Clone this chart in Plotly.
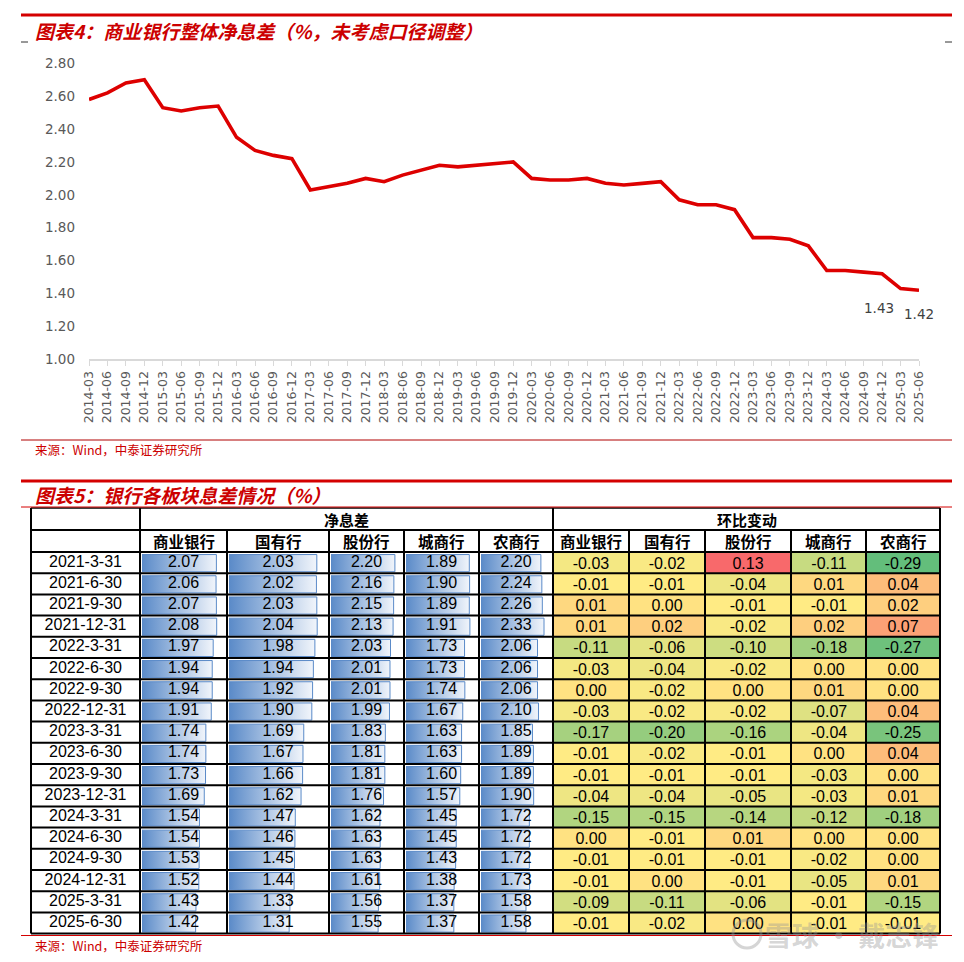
import plotly.graph_objects as go
import numpy as np

W, H = 964, 962


def px(x):
    return x / W


def py(y):
    return 1 - y / H


# ---------------- data: chart 4 ----------------
quarters = ["2014-03", "2014-06", "2014-09", "2014-12",
            "2015-03", "2015-06", "2015-09", "2015-12",
            "2016-03", "2016-06", "2016-09", "2016-12",
            "2017-03", "2017-06", "2017-09", "2017-12",
            "2018-03", "2018-06", "2018-09", "2018-12",
            "2019-03", "2019-06", "2019-09", "2019-12",
            "2020-03", "2020-06", "2020-09", "2020-12",
            "2021-03", "2021-06", "2021-09", "2021-12",
            "2022-03", "2022-06", "2022-09", "2022-12",
            "2023-03", "2023-06", "2023-09", "2023-12",
            "2024-03", "2024-06", "2024-09", "2024-12",
            "2025-03", "2025-06"]
nim_total = [2.58, 2.62, 2.68, 2.70,
             2.53, 2.51, 2.53, 2.54,
             2.35, 2.27, 2.24, 2.22,
             2.03, 2.05, 2.07, 2.10,
             2.08, 2.12, 2.15, 2.18,
             2.17, 2.18, 2.19, 2.20,
             2.10, 2.09, 2.09, 2.10,
             2.07, 2.06, 2.07, 2.08,
             1.97, 1.94, 1.94, 1.91,
             1.74, 1.74, 1.73, 1.69,
             1.54, 1.54, 1.53, 1.52,
             1.43, 1.42]
y_ticks = [1.00, 1.20, 1.40, 1.60, 1.80, 2.00, 2.20, 2.40, 2.60, 2.80]

# ---------------- data: chart 5 ----------------
dates = ["2021-3-31", "2021-6-30", "2021-9-30", "2021-12-31",
         "2022-3-31", "2022-6-30", "2022-9-30", "2022-12-31",
         "2023-3-31", "2023-6-30", "2023-9-30", "2023-12-31",
         "2024-3-31", "2024-6-30", "2024-9-30", "2024-12-31",
         "2025-3-31", "2025-6-30"]
bank_types = ["商业银行", "国有行", "股份行", "城商行", "农商行"]
group_titles = ["净息差", "环比变动"]

nim_bank = [2.07, 2.06, 2.07, 2.08, 1.97, 1.94, 1.94, 1.91, 1.74, 1.74, 1.73, 1.69, 1.54, 1.54, 1.53, 1.52, 1.43, 1.42]
nim_state = [2.03, 2.02, 2.03, 2.04, 1.98, 1.94, 1.92, 1.90, 1.69, 1.67, 1.66, 1.62, 1.47, 1.46, 1.45, 1.44, 1.33, 1.31]
nim_joint = [2.20, 2.16, 2.15, 2.13, 2.03, 2.01, 2.01, 1.99, 1.83, 1.81, 1.81, 1.76, 1.62, 1.63, 1.63, 1.61, 1.56, 1.55]
nim_city = [1.89, 1.90, 1.89, 1.91, 1.73, 1.73, 1.74, 1.67, 1.63, 1.63, 1.60, 1.57, 1.45, 1.45, 1.43, 1.38, 1.37, 1.37]
nim_rural = [2.20, 2.24, 2.26, 2.33, 2.06, 2.06, 2.06, 2.10, 1.85, 1.89, 1.89, 1.90, 1.72, 1.72, 1.72, 1.73, 1.58, 1.58]

chg_bank = [-0.03, -0.01, 0.01, 0.01, -0.11, -0.03, 0.00, -0.03, -0.17, -0.01, -0.01, -0.04, -0.15, 0.00, -0.01, -0.01, -0.09, -0.01]
chg_state = [-0.02, -0.01, 0.00, 0.02, -0.06, -0.04, -0.02, -0.02, -0.20, -0.02, -0.01, -0.04, -0.15, -0.01, -0.01, 0.00, -0.11, -0.02]
chg_joint = [0.13, -0.04, -0.01, -0.02, -0.10, -0.02, 0.00, -0.02, -0.16, -0.01, -0.01, -0.05, -0.14, 0.01, -0.01, -0.01, -0.06, 0.00]
chg_city = [-0.11, 0.01, -0.01, 0.02, -0.18, 0.00, 0.01, -0.07, -0.04, 0.00, -0.03, -0.03, -0.12, 0.00, -0.02, -0.05, -0.01, -0.01]
chg_rural = [-0.29, 0.04, 0.02, 0.07, -0.27, 0.00, 0.00, 0.04, -0.25, 0.04, 0.00, 0.01, -0.18, 0.00, 0.00, 0.01, -0.15, -0.01]

nim_table = [nim_bank, nim_state, nim_joint, nim_city, nim_rural]
chg_table = [chg_bank, chg_state, chg_joint, chg_city, chg_rural]

# ---------------- styles / layout geometry ----------------
RED = "#D40000"
TITLE_RED = "#CC0000"
CJK = "Noto Sans CJK SC"
ARIAL = "Liberation Sans, Arial"

col_edges = [31, 140, 227, 329, 404, 479, 553, 629, 705, 791, 866, 940]
hdr_top, hdr_mid, row_top, row_h = 508, 530, 552, 21.2
n_rows = len(dates)
row_bot = row_top + n_rows * row_h

fig = go.Figure()

# ---------------- chart 4: line ----------------
fig.add_trace(go.Scatter(
    x=quarters, y=nim_total, mode="lines",
    line=dict(color="#DD0000", width=3.6),
    xaxis="x", yaxis="y", showlegend=False, hoverinfo="skip"))

annotations = []
label_offsets = {len(quarters) - 2: (-22, -19), len(quarters) - 1: (0, -24)}
for idx, (dx, dy) in label_offsets.items():
    annotations.append(dict(
        x=quarters[idx], y=nim_total[idx], xref="x", yref="y",
        xanchor="center", yanchor="middle",
        text=f"{nim_total[idx]:.2f}", showarrow=False,
        xshift=dx, yshift=dy,
        font=dict(family="DejaVu Sans", size=13.5, color="#404040")))

# ---------------- chart 5: table ----------------
# heat map of changes (Excel-style 3-colour scale, midpoint = median)
z = np.array(chg_table).T
zmin, zmax, zmid = float(z.min()), float(z.max()), float(np.median(z))
pos = (zmid - zmin) / (zmax - zmin)
fig.add_trace(go.Heatmap(
    z=z, x=col_edges[6:], y=list(range(n_rows)),
    text=[[f"{v:.2f}" for v in row] for row in z],
    texttemplate="%{text}",
    textfont=dict(family=ARIAL, size=16, color="#000000"),
    colorscale=[[0, "#63BE7B"], [pos, "#FFEB84"], [1, "#F8696B"]],
    zmin=zmin, zmax=zmax, showscale=False,
    xaxis="x2", yaxis="y2", hoverinfo="skip"))

# date column
fig.add_trace(go.Scatter(
    x=[(col_edges[0] + col_edges[1]) / 2] * n_rows, y=list(range(n_rows)),
    mode="text", text=dates, textposition="middle center",
    textfont=dict(family=ARIAL, size=16, color="#000000"),
    xaxis="x2", yaxis="y2", showlegend=False, hoverinfo="skip"))

# data bars (one x axis per column, Excel-style data bar scaling)
bar_axes = {}
for j, vals in enumerate(nim_table):
    m = max(vals)
    ax_id = 3 + j
    lo, hi = -0.125 * m, 1.125 * m
    bar_axes[ax_id] = dict(
        domain=[px(col_edges[1 + j] + 2), px(col_edges[2 + j] - 2)],
        range=[lo, hi], visible=False, fixedrange=True, anchor="y2")
    for i, v in enumerate(vals):
        y0, y1 = i - 0.5 + 0.12, i + 0.5 - 0.07
        fig.add_trace(go.Scatter(
            x=[lo, v, v, lo, lo], y=[y0, y0, y1, y1, y0],
            mode="lines", fill="toself",
            fillgradient=dict(type="horizontal",
                              colorscale=[[0, "#5A8AC8"], [1, "#F1F5FB"]]),
            line=dict(color="#5A8AC8", width=1),
            xaxis=f"x{ax_id}", yaxis="y2",
            showlegend=False, hoverinfo="skip"))
    fig.add_trace(go.Scatter(
        x=[(lo + hi) / 2] * n_rows, y=list(range(n_rows)), mode="text",
        text=[f"{v:.2f}" for v in vals], textposition="middle center",
        textfont=dict(family=ARIAL, size=16, color="#000000"),
        xaxis=f"x{ax_id}", yaxis="y2", showlegend=False, hoverinfo="skip",
        cliponaxis=False))


def note(x, y, text, size, color="#000", weight=400, style="normal",
         family=CJK, xanchor="center"):
    annotations.append(dict(x=px(x), y=py(y), xref="paper", yref="paper",
                            xanchor=xanchor, yanchor="middle",
                            text=text, showarrow=False,
                            font=dict(family=family, size=size, color=color,
                                      weight=weight, style=style)))


# headers
note((col_edges[1] + col_edges[6]) / 2, (hdr_top + hdr_mid) / 2, group_titles[0], 15, weight=700)
note((col_edges[6] + col_edges[11]) / 2, (hdr_top + hdr_mid) / 2, group_titles[1], 15, weight=700)
for k in range(10):
    note((col_edges[1 + k] + col_edges[2 + k]) / 2, (hdr_mid + row_top) / 2,
         bank_types[k % 5], 15.5, weight=700)

# table grid lines
shapes = []


def hline(y, x0, x1, color="#000", w=2):
    shapes.append(dict(type="line", xref="paper", yref="paper",
                       x0=px(x0), x1=px(x1), y0=py(y), y1=py(y),
                       line=dict(color=color, width=w)))


def vline(x, y0, y1, color="#000", w=2):
    shapes.append(dict(type="line", xref="paper", yref="paper",
                       x0=px(x), x1=px(x), y0=py(y0), y1=py(y1),
                       line=dict(color=color, width=w)))


hline(hdr_top, col_edges[0], col_edges[-1], w=1.5)
hline(hdr_mid, col_edges[0], col_edges[-1])
for k in range(n_rows + 1):
    hline(row_top + k * row_h, col_edges[0], col_edges[-1])
for k, x in enumerate(col_edges):
    if k in (0, 1, 6, 11):
        vline(x, hdr_top, row_bot)
    else:
        vline(x, hdr_mid, row_bot)

# page decorations: red rules, titles, sources
hline(15, 21, 952, color=RED, w=3)
hline(42, 21, 28, color="#333", w=1)
hline(42, 945, 952, color="#333", w=1)
hline(440, 21, 952, color="#B00000", w=1)
hline(481, 21, 952, color=RED, w=3)
hline(507, 21, 952, color=RED, w=1)
hline(935.5, 21, 952, color=RED, w=1)

note(33, 30, "图表4：商业银行整体净息差（%，未考虑口径调整）", 19, color=TITLE_RED,
     weight=700, style="italic", xanchor="left")
note(33, 494, "图表5：银行各板块息差情况（%）", 19, color=TITLE_RED,
     weight=700, style="italic", xanchor="left")
for ys in (449, 945):
    note(33, ys, "来源：Wind，中泰证券研究所", 12.5, color="#CC0000", xanchor="left")

# watermark
note(852, 934, "雪球 · 戴志锋", 27, color="rgba(150,150,150,0.40)", weight=700)
shapes.append(dict(type="circle", xref="paper", yref="paper",
                   x0=px(733), x1=px(761), y0=py(948), y1=py(920),
                   line=dict(color="rgba(150,150,150,0.40)", width=3)))

layout_axes = dict(
    xaxis=dict(domain=[px(89), px(919)], anchor="y", type="category",
               range=[0, len(quarters) - 1], showgrid=False, zeroline=False,
               showline=True, linecolor="#D9D9D9", linewidth=1.5,
               ticks="outside", ticklen=5, tickcolor="#D9D9D9", tickwidth=1,
               tickangle=-90, tickfont=dict(family="DejaVu Sans", size=12.5, color="#595959"),
               fixedrange=True, automargin=False),
    yaxis=dict(domain=[py(359.3), py(63.3)], anchor="x", range=[1.0, 2.8],
               tickvals=y_ticks, ticktext=[f"{v:.2f}" for v in y_ticks],
               showgrid=False, zeroline=False, showline=False, ticks="",
               ticklabelstandoff=13,
               tickfont=dict(family="DejaVu Sans", size=13.5, color="#595959"),
               fixedrange=True, automargin=False),
    xaxis2=dict(domain=[0, 1], range=[0, W], visible=False, anchor="y2", fixedrange=True),
    yaxis2=dict(domain=[py(row_bot), py(row_top)], range=[n_rows - 0.5, -0.5],
                visible=False, anchor="x2", fixedrange=True),
)
for ax_id, ax in bar_axes.items():
    layout_axes[f"xaxis{ax_id}"] = ax

fig.update_layout(
    width=W, height=H, margin=dict(l=0, r=0, t=0, b=0, pad=0, autoexpand=False),
    paper_bgcolor="white", plot_bgcolor="rgba(0,0,0,0)",
    showlegend=False, annotations=annotations, shapes=shapes,
    **layout_axes)

fig.write_html("out.html", config={"displayModeBar": False},
               post_script="document.body.style.margin='0px';document.body.style.overflow='hidden';")
